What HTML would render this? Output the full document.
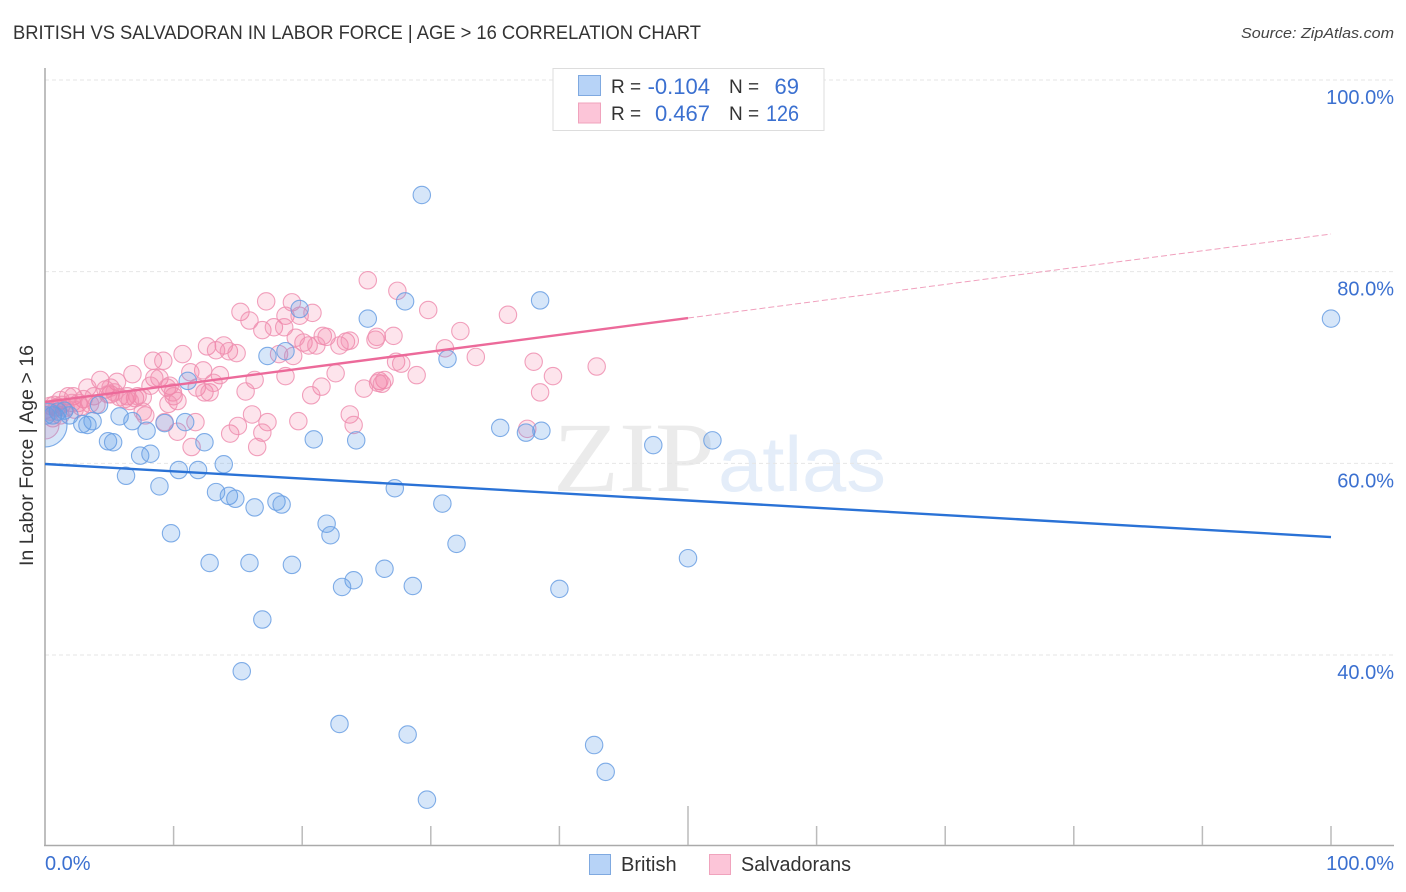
<!DOCTYPE html>
<html lang="en">
<head>
<meta charset="utf-8">
<title>British vs Salvadoran in Labor Force | Age > 16 Correlation Chart</title>
<style>
html,body{margin:0;padding:0;background:#fff;width:1406px;height:892px;overflow:hidden}
svg{display:block;font-family:"Liberation Sans",sans-serif}
</style>
</head>
<body>
<svg id="chart" xmlns="http://www.w3.org/2000/svg" width="1406" height="892" viewBox="0 0 1406 892">
<defs><clipPath id="plot-clip"><rect x="45" y="68" width="1349" height="777"/></clipPath></defs>
<text x="13" y="39" font-size="19" fill="#333" textLength="688" lengthAdjust="spacingAndGlyphs">BRITISH VS SALVADORAN IN LABOR FORCE | AGE &gt; 16 CORRELATION CHART</text>
<text x="1394" y="38" font-size="15" font-style="italic" fill="#444" text-anchor="end" textLength="153" lengthAdjust="spacingAndGlyphs">Source: ZipAtlas.com</text>
<text transform="translate(33,566) rotate(-90)" font-size="19" fill="#333" textLength="221" lengthAdjust="spacingAndGlyphs">In Labor Force | Age &gt; 16</text>
<text x="553" y="491" font-size="100" font-family="'Liberation Serif',serif" fill="#ebebeb" textLength="162" lengthAdjust="spacingAndGlyphs">ZIP</text>
<text x="718" y="491" font-size="78" fill="#e4edf9" textLength="168" lengthAdjust="spacingAndGlyphs">atlas</text>
<g id="grid"></g>
<g id="axes"></g>
<g id="points" clip-path="url(#plot-clip)"></g>
<g id="trends"></g>
<g>
<rect x="553" y="68.5" width="271" height="62" fill="#fff" stroke="#ddd"/>
<rect x="578.5" y="75.5" width="22" height="20" fill="#b7d3f7" stroke="#7fa9e0"/>
<rect x="578.5" y="103" width="22" height="20" fill="#fcc5d8" stroke="#f0a3bd"/>
<text x="611" y="93" font-size="19" fill="#333">R =</text>
<text x="710" y="94" font-size="22" fill="#3b70d0" text-anchor="end">-0.104</text>
<text x="729" y="93" font-size="19" fill="#333">N =</text>
<text x="799" y="94" font-size="22" fill="#3b70d0" text-anchor="end">69</text>
<text x="611" y="120" font-size="19" fill="#333">R =</text>
<text x="710" y="121" font-size="22" fill="#3b70d0" text-anchor="end">0.467</text>
<text x="729" y="120" font-size="19" fill="#333">N =</text>
<text x="799" y="121" font-size="22" fill="#3b70d0" text-anchor="end" textLength="33" lengthAdjust="spacingAndGlyphs">126</text>
</g>
<g>
<rect x="589.5" y="854.5" width="21" height="20" fill="#b7d3f7" stroke="#7fa9e0"/>
<text x="621" y="871" font-size="20" fill="#333">British</text>
<rect x="709.5" y="854.5" width="21" height="20" fill="#fcc5d8" stroke="#f0a3bd"/>
<text x="741" y="871" font-size="20" fill="#333" textLength="110" lengthAdjust="spacingAndGlyphs">Salvadorans</text>
</g>
</svg>
<script>
const xTickValues = [10, 20, 30, 40, 50, 60, 70, 80, 90, 100];
const yTickValues = [100, 80, 60, 40];
const yTickLabels = ["100.0%", "80.0%", "60.0%", "40.0%"];
const xEndLabels = ["0.0%", "100.0%"];
const britishX = [29.3,100,38.5,28.0,19.8,25.1,31.3,17.3,18.7,11.1,35.4,37.4,38.6,47.3,51.9,20.9,24.2,0.6,1.0,1.5,1.9,2.9,3.3,3.7,5.8,6.8,7.9,9.3,10.9,4.9,5.3,7.4,8.2,6.3,8.9,10.4,11.9,13.9,12.4,13.3,14.3,14.8,16.3,18.0,18.4,21.9,22.2,27.2,30.9,32.0,9.8,12.8,15.9,19.2,26.4,24.0,23.1,28.6,40.0,50.0,16.9,15.3,22.9,28.2,42.7,43.6,29.7,4.2,0.1];
const britishY = [88.0,75.1,77.0,76.9,76.1,75.1,70.9,71.2,71.7,68.6,63.7,63.2,63.4,61.9,62.4,62.5,62.4,65.0,65.4,65.5,65.0,64.1,64.0,64.4,64.9,64.4,63.4,64.2,64.3,62.3,62.2,60.8,61.0,58.7,57.6,59.3,59.3,59.9,62.2,57.0,56.6,56.3,55.4,56.0,55.7,53.7,52.5,57.4,55.8,51.6,52.7,49.6,49.6,49.4,49.0,47.8,47.1,47.2,46.9,50.1,43.7,38.3,32.8,31.7,30.6,27.8,24.9,66.1,65.0];
const salvadoranX = [25.1,27.4,17.2,19.2,15.2,15.9,18.7,19.8,20.8,16.9,17.8,18.6,29.8,36.0,32.3,21.6,21.9,27.1,23.4,22.9,23.7,25.7,25.8,12.6,13.9,13.3,14.3,14.9,10.7,18.2,19.3,20.1,20.5,19.5,21.1,31.1,33.5,27.3,27.7,28.9,38.0,42.9,39.5,38.5,8.4,9.2,12.3,6.8,11.3,4.3,5.6,13.6,16.3,18.7,22.6,26.0,26.4,25.9,26.2,24.8,21.5,20.7,8.5,8.9,9.7,9.5,10.0,10.3,11.8,12.4,12.8,13.1,3.3,4.7,5.1,5.8,6.4,7.0,7.6,8.2,6.2,2.2,3.0,3.8,4.0,1.8,1.2,0.7,0.4,1.3,2.1,2.6,9.95,15.6,9.6,7.8,7.6,9.3,10.3,11.7,11.4,14.4,15.0,16.1,17.3,16.9,16.5,19.7,23.7,24.0,37.5,0.1,0.4,1.2,0.9,1.6,2.3,5.1,5.4,7.2,4.9,6.6,3.5,2.8,1.0,0.6];
const salvadoranY = [79.1,78.0,76.9,76.8,75.8,74.9,75.4,75.4,75.7,73.9,74.2,74.2,76.0,75.5,73.8,73.3,73.2,73.3,72.7,72.3,72.8,72.9,73.2,72.2,72.3,71.8,71.7,71.5,71.4,71.4,71.2,72.6,72.3,73.1,72.3,72.0,71.1,70.6,70.4,69.2,70.6,70.1,69.1,67.4,70.7,70.7,69.7,69.3,69.5,68.7,68.5,69.2,68.7,69.1,69.4,68.6,68.7,68.4,68.3,67.8,68.0,67.1,68.9,68.9,68.1,67.9,67.0,66.5,67.9,67.4,67.4,68.4,67.9,67.7,67.2,66.9,67.0,66.8,66.9,68.1,66.7,67.0,66.7,67.0,66.1,67.0,66.6,66.1,66.0,66.1,66.3,66.3,67.4,67.5,66.2,65.0,65.4,64.3,63.3,64.3,61.7,63.1,63.9,65.1,64.3,63.2,61.7,64.4,65.1,64.0,63.6,65.6,65.4,65.0,65.8,65.8,65.6,67.9,67.4,67.0,67.2,66.5,66.2,65.9,65.9,64.7];
const britishLargeX = [0.0];
const britishLargeY = [64.0];
const salvadoranLargeX = [0.0];
const salvadoranLargeY = [64.0];
const britishTrendX = [0, 100];
const britishTrendY = [59.93, 52.31];
const salvadoranTrendSolidX = [0, 50];
const salvadoranTrendSolidY = [66.4, 75.16];
const salvadoranTrendDashX = [50, 100];
const salvadoranTrendDashY = [75.16, 83.93];

const NS = "http://www.w3.org/2000/svg";
const xScale = function (v) { return 45 + v * 12.86; };
const yScale = function (v) { return 80 + (100 - v) * 9.583; };
const make = function (parent, tag, props) {
  const el = document.createElementNS(NS, tag);
  Object.keys(props).forEach(function (k) { el.setAttribute(k, props[k]); });
  parent.appendChild(el);
  return el;
};

const gridG = document.getElementById("grid");
const axesG = document.getElementById("axes");
const pointsG = document.getElementById("points");
const trendsG = document.getElementById("trends");

yTickValues.forEach(function (v, i) {
  const line = make(gridG, "line", {x1: 45, x2: 1394, y1: yScale(v), y2: yScale(v), stroke: "#e6e6e6", "stroke-width": 1, "stroke-dasharray": "4 3"});
  
  
  const label = make(axesG, "text", {x: 1394, y: yScale(v) + 24, "font-size": 20, fill: "#3b70d0", "text-anchor": "end"});
  label.textContent = yTickLabels[i];
  
  
});

const yAxis = make(axesG, "line", {x1: 45, x2: 45, y1: 68, y2: 846, stroke: "#aaa", "stroke-width": 1.5});


const xAxis = make(axesG, "line", {x1: 44, x2: 1394, y1: 845.5, y2: 845.5, stroke: "#aaa", "stroke-width": 1.5});



xTickValues.forEach(function (v) {
  const top = v === 50 ? 806 : 826;
  const tick = make(axesG, "line", {x1: xScale(v), x2: xScale(v), y1: top, y2: 845, stroke: "#bbb", "stroke-width": 1.5});
  
  
});

const xLabelLeft = make(axesG, "text", {x: 45, y: 870, "font-size": 20, fill: "#3b70d0"});
xLabelLeft.textContent = xEndLabels[0];


const xLabelRight = make(axesG, "text", {x: 1394, y: 870, "font-size": 20, fill: "#3b70d0", "text-anchor": "end"});
xLabelRight.textContent = xEndLabels[1];



const PINK = {fill: "#f5779f", stroke: "#ee8fb0", op: 0.2};
const BLUE = {fill: "#5b9be8", stroke: "#6a9fe3", op: 0.25};
const drawPoint = function (xv, yv, r, c, name) {
  const dot = make(pointsG, "circle", {cx: xScale(xv), cy: yScale(yv), r: r, fill: c.fill, "fill-opacity": c.op, stroke: c.stroke, "stroke-width": 1.1, "stroke-opacity": 0.85});
  
  
};

salvadoranX.forEach(function (xv, i) { drawPoint(xv, salvadoranY[i], 8.7, PINK, 'salvadoran-point'); });
salvadoranLargeX.forEach(function (xv, i) { drawPoint(xv, salvadoranLargeY[i], 14, PINK, 'salvadoran-large-point'); });
britishLargeX.forEach(function (xv, i) { drawPoint(xv, britishLargeY[i], 22, BLUE, 'british-large-point'); });
britishX.forEach(function (xv, i) { drawPoint(xv, britishY[i], 8.7, BLUE, 'british-point'); });

const drawTrend = function (xs, ys, color, width, dash, name) {
  const line = make(trendsG, "line", {x1: xScale(xs[0]), y1: yScale(ys[0]), x2: xScale(xs[1]), y2: yScale(ys[1]), stroke: color, "stroke-width": width});
  if (dash) { line.setAttribute("stroke-dasharray", dash); }
  
  
};
drawTrend(britishTrendX, britishTrendY, "#2a72d6", 2.4, null, 'british-trend-line');
drawTrend(salvadoranTrendSolidX, salvadoranTrendSolidY, "#ec6a9a", 2.4, null, 'salvadoran-trend-line');
drawTrend(salvadoranTrendDashX, salvadoranTrendDashY, "#f0a0bd", 1, "6 3", 'salvadoran-trend-extension');
</script>
</body>
</html>
